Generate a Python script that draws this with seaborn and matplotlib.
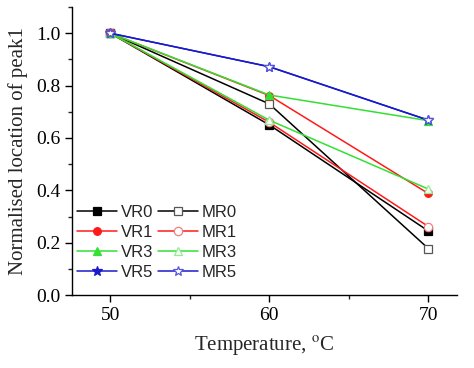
import numpy as np
import pandas as pd
import matplotlib
matplotlib.use("Agg")
import matplotlib.pyplot as plt
import seaborn as sns
from matplotlib.ticker import MultipleLocator

temperature = [50, 60, 70]

vr0 = [1.0, 0.650, 0.245]
mr0 = [1.0, 0.730, 0.178]
vr1 = [1.0, 0.762, 0.388]
mr1 = [1.0, 0.660, 0.262]
vr3 = [1.0, 0.764, 0.666]
mr3 = [1.0, 0.668, 0.405]
vr5 = [1.0, 0.872, 0.668]
mr5 = [1.0, 0.872, 0.668]

series_names = ["VR0", "MR0", "VR1", "MR1", "VR3", "MR3", "VR5", "MR5"]
series_values = [vr0, mr0, vr1, mr1, vr3, mr3, vr5, mr5]

rows = []
for name, vals in zip(series_names, series_values):
    for t, v in zip(temperature, vals):
        rows.append({"series": name, "temperature": t, "value": v})
df = pd.DataFrame(rows)

sns.set_theme(style="ticks")
plt.rcParams['font.family'] = ['Liberation Serif', 'DejaVu Serif']
plt.rcParams['mathtext.fontset'] = 'stix'

colors = {"0": "#000000", "1": "#ff1a1a", "3": "#33e033", "5": "#1a1acc"}
markers = {"0": "s", "1": "o", "3": "^", "5": "*"}
edge_light = {"0": "#555555", "1": "#f08080", "3": "#90ee90", "5": "#5555dd"}

fig = plt.figure(figsize=(4.74, 3.68), dpi=100)
ax = fig.add_axes([0.152, 0.198, 0.812, 0.783])

# open (MR) symbols drawn over the filled ones, as in the original
order = ["VR0", "MR0", "MR1", "VR1", "MR3", "VR3", "VR5", "MR5"]
handles = {}
for name in order:
    key = name[-1]
    sub = df[df["series"] == name]
    c = colors[key]
    if name.startswith("VR"):
        mkw = dict(markerfacecolor=c, markeredgecolor=c)
        ms = 7 if key == "5" else 5.5
    else:
        mkw = dict(markerfacecolor="white", markeredgecolor=edge_light[key])
        ms = 7.5 if key == "5" else 6
    sns.lineplot(data=sub, x="temperature", y="value", ax=ax, color=c,
                 marker=markers[key], markersize=ms, linewidth=1.1,
                 markeredgewidth=0.9, label=name, **mkw)
    handles[name] = ax.get_lines()[-1]

ax.get_legend().remove()
leg_order = ["VR0", "VR1", "VR3", "VR5", "MR0", "MR1", "MR3", "MR5"]
ax.legend([handles[n] for n in leg_order], leg_order, ncol=2, loc="lower left",
          bbox_to_anchor=(-0.03, -0.005), frameon=False, handlelength=2.4,
          handletextpad=0.25, columnspacing=0.25, labelspacing=0.3,
          borderpad=0.5, prop={"family": "Liberation Sans", "size": 12})

ax.set_xlim(47.6, 71.8)
ax.set_ylim(0, 1.1)
ax.xaxis.set_major_locator(MultipleLocator(10))
ax.xaxis.set_minor_locator(MultipleLocator(5))
ax.yaxis.set_major_locator(MultipleLocator(0.2))
ax.yaxis.set_minor_locator(MultipleLocator(0.1))
ax.tick_params(axis="both", which="major", direction="out", length=5, width=1,
               labelsize=14, colors="black")
ax.tick_params(axis="both", which="minor", direction="out", length=3, width=1)
ax.yaxis.set_major_formatter(matplotlib.ticker.FormatStrFormatter("%.1f"))

for s in ["top", "right"]:
    ax.spines[s].set_visible(False)
for s in ["left", "bottom"]:
    ax.spines[s].set_linewidth(1.0)
    ax.spines[s].set_color("black")

ax.set_xlabel("Temperature, $^{\\mathrm{o}}$C", fontsize=15, labelpad=8)
ax.set_ylabel("Normalised location of peak1", fontsize=15, labelpad=6)

fig.savefig("out.png", dpi=100)
